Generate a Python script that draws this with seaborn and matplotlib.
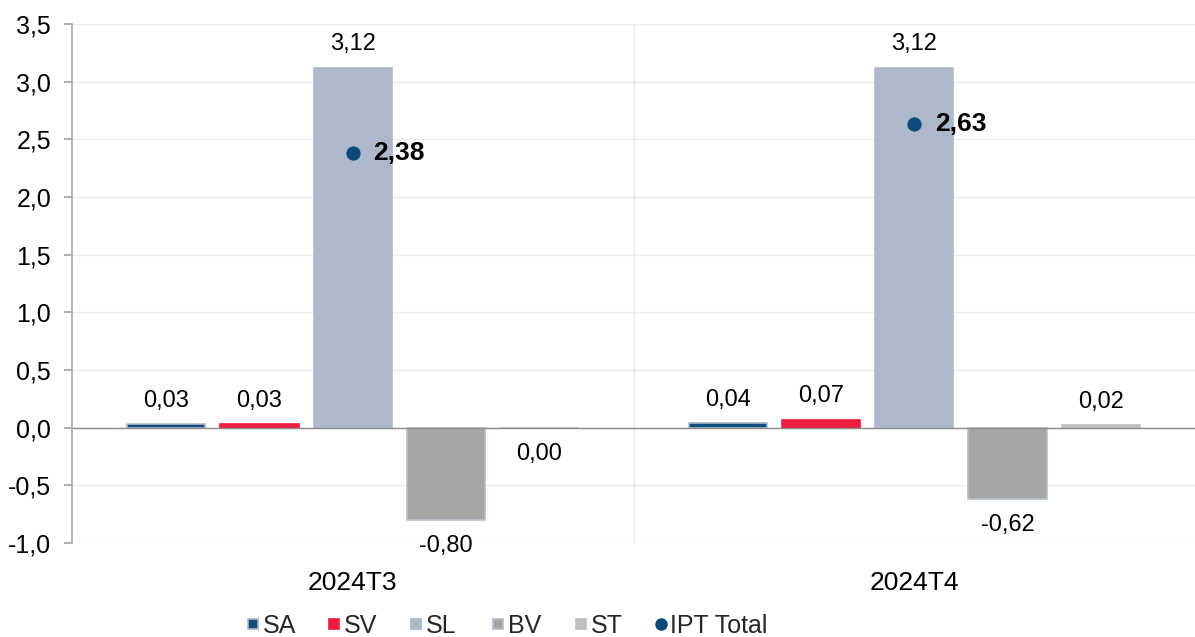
import numpy as np
import pandas as pd
import matplotlib
matplotlib.use("Agg")
import matplotlib.pyplot as plt
from matplotlib.lines import Line2D
from matplotlib.ticker import FuncFormatter, FixedLocator
import seaborn as sns

periods = ["2024T3", "2024T4"]
components = ["SA", "SV", "SL", "BV", "ST"]
sa = [0.03, 0.04]
sv = [0.03, 0.07]
sl = [3.12, 3.12]
bv = [-0.80, -0.62]
st = [0.00, 0.02]
ipt_total = [2.38, 2.63]

colors = {"SA": "#0E4C7E", "SV": "#EE1C3D", "SL": "#ADB9CA", "BV": "#A6A6A6", "ST": "#BFBFBF"}
edges = {"SA": "#A9B7C8", "SV": "#EE1C3D", "SL": "#ADB9CA", "BV": "#B4C0D0", "ST": "#BFBFBF"}
ipt_color = "#0B4A7A"

rows = []
for comp, vals in zip(components, [sa, sv, sl, bv, st]):
    for p, v in zip(periods, vals):
        rows.append({"period": p, "component": comp, "value": v})
df = pd.DataFrame(rows)

sns.set_theme(style="white")
plt.rcParams["font.family"] = ["Liberation Sans", "DejaVu Sans"]

W, H = 1195, 637
fig = plt.figure(figsize=(W / 100, H / 100), dpi=100)
ax = fig.add_axes([72 / W, 1 - 543 / H, (W - 72) / W, (543 - 24) / H])

sns.barplot(data=df, x="period", y="value", hue="component", order=periods,
            hue_order=components, palette=colors, width=0.83, gap=0.16,
            ax=ax, legend=False, errorbar=None, saturation=1)

for comp, container in zip(components, ax.containers):
    for bar, v in zip(container, df[df.component == comp]["value"]):
        bar.set_edgecolor(edges[comp])
        bar.set_linewidth(1.2)
        cx = bar.get_x() + bar.get_width() / 2
        label = f"{v:.2f}".replace(".", ",")
        if v > 0:
            ax.annotate(label, (cx, v), xytext=(0, 9), textcoords="offset points",
                        ha="center", va="bottom", fontsize=17, color="#000000")
        else:
            ax.annotate(label, (cx, v), xytext=(0, -11), textcoords="offset points",
                        ha="center", va="top", fontsize=17, color="#000000")

xpos = np.arange(len(periods))
sns.scatterplot(x=xpos, y=ipt_total, ax=ax, color=ipt_color, s=90, zorder=5,
                edgecolor=ipt_color, legend=False)
for x, v in zip(xpos, ipt_total):
    ax.annotate(f"{v:.2f}".replace(".", ","), (x, v), xytext=(15, 0),
                textcoords="offset points", ha="left", va="center",
                fontsize=19, fontweight="bold", color="#000000")

ax.set_ylim(-1.0, 3.5)
ax.set_xlim(-0.5, 1.5)
ax.yaxis.set_major_locator(FixedLocator(np.arange(-1.0, 3.51, 0.5)))
ax.yaxis.set_major_formatter(FuncFormatter(lambda v, p: f"{v:.1f}".replace(".", ",")))
ax.xaxis.set_minor_locator(FixedLocator([0.5]))
ax.grid(axis="y", color="#EBEBEB", linewidth=1)
ax.grid(axis="x", which="minor", color="#EBEBEB", linewidth=1)
ax.set_axisbelow(True)
ax.axhline(0, color="#8C8C8C", linewidth=1, zorder=1)

for s in ["top", "right", "bottom"]:
    ax.spines[s].set_visible(False)
ax.spines["left"].set_color("#A6A6A6")
ax.spines["left"].set_linewidth(1.2)
ax.tick_params(axis="y", left=True, direction="out", length=6, color="#A6A6A6",
               labelsize=18, labelcolor="#000000", pad=9)
ax.tick_params(axis="x", which="both", bottom=False, labelsize=19, labelcolor="#000000", pad=14)
ax.set_xlabel("")
ax.set_ylabel("")

handles = [Line2D([0], [0], marker="s", linestyle="none", markersize=7.5,
                  markerfacecolor=colors[c], markeredgecolor=edges[c], markeredgewidth=1.2, label=c)
           for c in components]
handles.append(Line2D([0], [0], marker="o", linestyle="none", markersize=8,
                      markerfacecolor=ipt_color, markeredgecolor=ipt_color, label="IPT Total"))
legend_x = [252, 333, 415, 497, 580, 660]
for h, lx in zip(handles, legend_x):
    fig.legend(handles=[h], loc="center left", bbox_to_anchor=((lx - 7) / W, 1 - 626 / H),
               frameon=False, fontsize=18, handlelength=0.6, handletextpad=0.1,
               borderpad=0, borderaxespad=0)

fig.savefig("out.png", dpi=100)
